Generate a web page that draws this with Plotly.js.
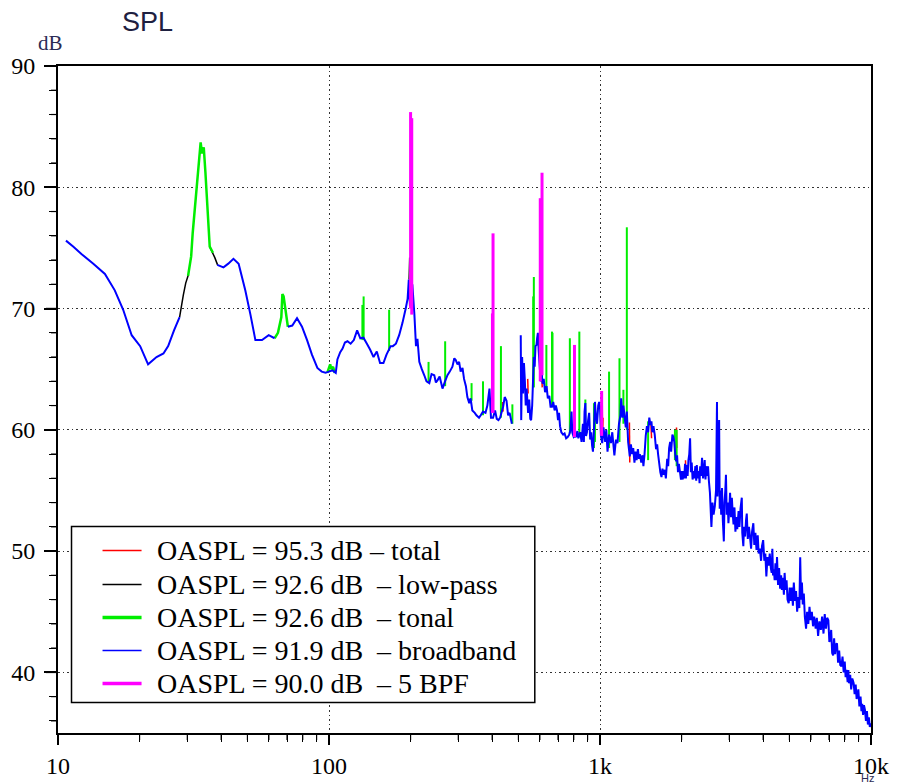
<!DOCTYPE html>
<html><head><meta charset="utf-8">
<script src="https://cdn.plot.ly/plotly-3.0.1.min.js"></script>
<style>html,body{margin:0;padding:0;background:#fff;} #chart{width:900px;height:784px;}</style>
</head><body><div id="chart"></div>
<script>
// ---- series names (legend) ----
const seriesNames = [
  'OASPL = 95.3 dB \u2013 total',
  'OASPL = 92.6 dB \u00a0\u2013 low-pass',
  'OASPL = 92.6 dB \u00a0\u2013 tonal',
  'OASPL = 91.9 dB \u00a0\u2013 broadband',
  'OASPL = 90.0 dB \u00a0\u2013 5 BPF'
];
const seriesColors = ['#ff0000', '#000000', '#00ee00', '#0000ff', '#ff00ff'];
const legendLineWidths = [1.5, 1.5, 3.5, 1.5, 3.5];

// ---- broadband spectrum (Hz, dB); null level = gap ----
const bbFreq = [
  10.7, 11.4, 12.2, 13.5, 14.9, 16.2, 17.4, 18.7, 20.1, 21.5,
  23.1, 24.5, 25.5, 26.8, 28.1, 28.3, 38.7, 40.8, 42.5, 44.4,
  46.4, 49.1, 51.3, 53.5, 56.6, 59.9, 63.0, 63.5, 70.5, 73.2,
  76.2, 79.5, 83.0, 86.5, 90.6, 94.0, 97.1, 100, 103, 105.9,
  107.4, 110, 112.2, 114.5, 117, 120.2, 123.5, 127, 130.5, 134,
  138, 141.9, 146, 150.1, 154.3, 158.8, 163, 168.8, 172, 176.6,
  181.5, 186.6, 191.9, 195, 197, 199, 203, 206.6, 209.4, 212,
  215.4, 220, 224.7, 229, 234.5, 239, 244.6, 248, 251.6, 256,
  262.3, 268, 273.6, 279, 285.4, 290, 293.6, 298, 302.1, 306,
  310.9, 315, 320, 324, 329.2, 333, 338, 345, 350, 357.8,
  363, 370, 378, 384, 391, 396, 403, 410, 416, 422,
  428, 439, 445, 452, 458, 464, 473, 490, 510, 512,
  516, 520, 524, 528, 532, 536, 543, 548, 553, 557,
  562, 566, 570, 574, 578, 583, 586, 590, 594, 600,
  605, 609, 614, 620, 627, 635, 642, 650, 657, 665,
  672, 680, 687, 694, 700, 706, 712, 720, 731, 740,
  750, 760, 770, 778, 785, 790, 800, 810, 816, 825,
  832, 845, 855, 865, 872, 877, 883, 888, 895, 904,
  912, 920, 928, 935, 942, 950, 958, 966, 975, 985,
  993, 1000, 1008, 1019, 1030, 1045, 1055, 1066, 1080, 1097,
  1110, 1130, 1145, 1160, 1175, 1190, 1197, 1210, 1220, 1232,
  1245, 1256, 1270, 1288, 1300, 1315, 1326, 1340, 1352, 1365,
  1380, 1392, 1403, 1420, 1435, 1446, 1460, 1475, 1490, 1505,
  1520, 1535, 1548, 1560, 1575, 1592, 1610, 1625, 1638, 1655,
  1670, 1686, 1700, 1715, 1734, 1750, 1770, 1785, 1799, 1815,
  1830, 1850, 1866, 1880, 1895, 1910, 1925, 1940, 1955, 1974,
  1990, 2005, 2020, 2031, 2045, 2060, 2075, 2089, 2105, 2120,
  2135, 2150, 2165, 2180, 2196, 2212, 2230, 2248, 2265, 2276,
  2295, 2317, 2330, 2342, 2360, 2380, 2400, 2418, 2434, 2450,
  2470, 2490, 2504, 2520, 2545, 2560, 2577, 2600, 2625, 2653,
  2680, 2702, 2712, 2730, 2752, 2765, 2784, 2800, 2820, 2840,
  2864, 2880, 2900, 2916, 2935, 2960, 2978, 3000, 3020, 3045,
  3066, 3090, 3110, 3135, 3160, 3185, 3210, 3246, 3270, 3300,
  3336, 3350, 3380, 3400, 3430, 3460, 3480, 3510, 3545, 3577,
  3610, 3640, 3680, 3710, 3745, 3780, 3820, 3850, 3890, 3930,
  3960, 4000, 4040, 4075, 4110, 4150, 4190, 4230, 4270, 4300,
  4325, 4350, 4380, 4410, 4440, 4470, 4500, 4540, 4580, 4620,
  4660, 4690, 4730, 4770, 4800, 4840, 4880, 4920, 4970, 5010,
  5060, 5100, 5150, 5190, 5240, 5290, 5340, 5390, 5440, 5480,
  5520, 5560, 5600, 5650, 5700, 5760, 5810, 5870, 5930, 5990,
  6050, 6110, 6170, 6250, 6310, 6380, 6450, 6530, 6600, 6680,
  6750, 6820, 6890, 6960, 7020, 7070, 7130, 7190, 7250, 7310,
  7370, 7430, 7490, 7560, 7630, 7700, 7780, 7850, 7930, 8000,
  8060, 8120, 8200, 8250, 8300, 8380, 8450, 8530, 8630, 8700,
  8780, 8850, 8900, 8980, 9060, 9150, 9220, 9280, 9350, 9420,
  9500, 9580, 9660, 9740, 9820, 9900, 10000
];
const bbLevel = [
  75.6, 75.1, 74.5, 73.7, 72.85, 71.5, 69.9, 67.8, 66.9, 65.4,
  66.0, 66.3, 66.9, 68.2, 69.3, null, 73.6, 73.4, 73.7, 74.1,
  73.7, 71.5, 69.5, 67.4, 67.4, 67.8, 67.55, null, 68.5, 68.6,
  69.2, 68.5, 67.4, 66.2, 65.1, 64.8, 64.7, 64.8, 64.9, 64.7,
  65.8, 66.4, 66.7, 67.2, 67.3, 67.1, 67.4, 68.2, 67.55, 67.6,
  67.1, 66.6, 66.0, 66.45, 65.5, 65.5, 66.2, 66.9, 66.9, 67.1,
  67.8, 68.8, 70.0, 70.8, 72.4, 70.2, 72.0, 69.5, 66.9, 67.5,
  65.6, 65.0, 64.5, 64.0, 63.85, 64.6, 64.5, 63.9, 64.1, 64.4,
  63.4, 64.0, 64.5, 64.8, 65.2, 65.9, 65.75, 65.4, 65.6, 64.8,
  65.1, 64.2, 63.6, 62.7, 62.2, 62.6, 61.6, 61.4, 61.2, 61.0,
  61.2, 61.5, 61.4, 62.0, 63.4, 61.0, 61.0, 61.6, 60.9, 60.8,
  61.0, 61.9, 62.7, 62.4, 61.2, 61.4, 60.5, null, 67.8, 60.8,
  66.0, 63.0, 65.5, 64.1, 62.0, 63.4, 61.4, 62.5, 60.9, 60.8,
  62.0, 64.0, 66.0, 65.2, 66.9, 67.0, 67.55, 68.0, 66.5, 65.0,
  64.0, 64.7, 63.8, 64.2, 63.1, 63.6, 62.6, 62.8, 61.9, 61.9,
  62.3, 61.6, 62.0, 61.6, 60.8, 61.4, 60.3, 59.8, 59.6, 59.7,
  59.3, 59.4, 59.6, 60.0, 61.5, 59.8, 59.4, 59.5, 59.4, 59.9,
  59.3, 59.8, 59.0, 60.5, 59.0, 61.5, 62.2, 59.5, 59.8, 60.8,
  61.4, 59.2, 59.8, 58.7, 58.2, 60.0, 62.3, 61.0, 60.5, 62.0,
  62.3, 61.9, 59.5, 58.9, 60.2, 59.0, 60.0, 58.2, 59.6, 58.9,
  59.8, 57.9, 59.2, 58.9, 60.5, 61.2, 62.6, 61.0, 62.0, 61.1,
  60.2, 61.5, 59.0, 57.8, 58.8, 58.0, 58.5, 57.3, 58.2, 57.5,
  58.4, 57.6, 58.0, 57.3, 57.9, 57.0, 58.0, 59.5, 60.3, 59.8,
  61.0, 60.4, 60.7, 59.8, 60.3, 59.6, 58.4, 58.8, 58.0, 57.2,
  56.5, 56.1, 56.8, 56.3, 56.7, 56.0, 57.6, 57.0, 58.5, 59.0,
  58.2, 59.6, 59.4, 59.0, 58.0, 57.4, 57.9, 56.5, 57.2, 56.5,
  55.9, 56.6, 55.9, 56.6, 56.0, 57.2, 56.0, 57.1, 56.2, 57.5,
  58.0, 59.3, 56.5, 57.3, 55.9, 56.6, 56.0, 57.0, 55.8, 57.1,
  56.0, 56.6, 55.6, 57.0, 56.2, 57.7, 56.0, 56.7, 57.5, 55.9,
  57.0, 56.2, 57.0, 55.9, 54.8, 53.5, 52.0, 54.0, 53.0, 53.7,
  55.0, 62.3, 54.5, 56.5, 60.8, 53.5, 55.0, 53.0, 55.2, 52.5,
  50.8, 54.0, 55.0, 56.3, 53.0, 54.0, 52.3, 53.5, 54.8, 52.8,
  54.4, 53.0, 52.2, 53.6, 51.6, 52.8, 51.8, 53.3, 52.0, 53.5,
  54.4, 51.5, 50.4, 52.0, 51.2, 52.6, 53.1, 51.0, 52.0, 51.2,
  50.2, 51.6, 52.3, 50.5, 51.5, 50.1, 51.3, 49.8, 50.2, 49.2,
  50.4, 50.9, 49.2, 49.8, 47.9, 49.5, 48.8, 49.8, 48.6, 48.2,
  50.2, 48.0, 48.5, 47.6, 49.0, 47.6, 49.5, 47.2, 48.6, 46.9,
  48.0, 46.8, 47.8, 46.4, 48.2, 46.8, 47.6, 46.0, 45.7, 47.0,
  45.9, 47.0, 45.5, 47.4, 45.9, 46.7, 45.0, 46.2, 45.3, 49.5,
  46.0, 47.4, 45.6, 46.5, 44.6, 43.6, 45.0, 44.0, 45.4, 44.3,
  45.0, 43.8, 44.6, 43.6, 44.5, 43.0, 44.2, 43.5, 44.6, 43.2,
  44.8, 43.6, 44.5, 44.3, 42.5, 42.7, 43.5, 41.6, 41.4, 42.8,
  41.5, 42.3, 42.4, 40.8, 41.8, 40.6, 40.5, 41.3, 40.0, 40.9,
  39.6, 40.2, 39.2, 40.2, 39.1, 39.8, 38.6, 39.5, 39.1, 38.2,
  39.0, 37.8, 38.0, 38.6, 37.2, 38.0, 36.8, 37.4, 36.5, 37.3,
  36.9, 36.0, 36.8, 35.7, 36.3, 35.5, 35.8
];

// ---- tonal humps (green); null level = gap ----
const humpFreq = [
  30.2, 31.0, 31.4, 31.9, 32.8, 33.6, 34.0, 34.5, 35.0, 35.6, 36.3, 37.3, 40,
  63.0, 64.8, 66.7, 67.3, 68.0, 69.4, 70.5, 80,
  98.5, 101, 102, 103.5, 105
];
const humpLevel = [
  72.7, 74.3, 76.2, 78.1, 81.5, 83.7, 82.8, 83.3, 81.2, 77.9, 75.1, 74.6, null,
  67.55, 68.0, 69.3, 71.2, 71.0, 69.3, 68.5, null,
  64.7, 65.4, 65.0, 65.2, 64.7
];

// ---- tonal spikes (green): frequency, peak level, base level ----
const spikeFreq = [132.8, 134.2, 166.7, 199.5, 233, 268.3, 335.8, 370, 431, 475,
  567, 570, 634, 665, 668, 774, 839, 883, 950, 958, 1080, 1180, 1220, 1256, 1505, 1890, 1918];
const spikePeak = [70.3, 71.0, 69.9, 73.0, 65.6, 67.3, 63.85, 64.0, 66.9, 62.1,
  71.0, 72.6, 67.0, 68.1, 68.0, 67.55, 68.1, 62.5, 62.2, 62.3, 64.8, 65.9, 63.3, 76.7, 60.7, 60.0, 60.0];
const spikeBase = [67.4, 67.4, 66.5, 71.0, 63.9, 63.6, 62.4, 61.2, 61.0, 60.5,
  63.5, 63.5, 63.2, 62.0, 62.0, 59.7, 59.5, 60.0, 58.5, 59.0, 58.5, 59.0, 60.5, 60.0, 57.5, 57.5, 57.0];

// ---- low-pass (black) visible parts; null level = gap ----
const lpFreq = [28.1, 28.5, 29.0, 29.6, 30.3, 33, 36.3, 37.3, 37.9, 38.8, 100, 197.5, 198.5, 199.5];
const lpLevel = [69.3, 70.2, 71.1, 72.1, 72.8, null, 75.1, 74.6, 74.2, 73.6, null, 72.4, 74.2, 72.0];

// ---- total (red) visible parts; null level = gap ----
const totFreq = [437, 439, 500, 541, 543, 580, 610, 612, 800, 1019, 1022, 1026, 1100,
  1284, 1288, 1400, 1540, 1550, 1700, 1915, 1920, 2000, 2068, 2072];
const totLevel = [62.3, 61.5, null, 64.2, 63.0, null, 64.9, 63.5, null, 62.4, 59.5, 61.0, null,
  60.6, 57.3, null, 60.6, 59.3, null, 60.2, 58.5, null, 57.5, 56.5];

// ---- blade passing frequency harmonics (magenta) ----
const bpfFreq = [200, 202, 401, 403, 602, 611, 805, 1014];
const bpfPeak = [86.2, 85.7, 69.6, 76.2, 79.1, 81.2, 67.0, 63.2];
const bpfBase = [70.0, 69.5, 61.4, 61.4, 64.0, 64.5, 59.4, 59.5];

// ---- axis ticks ----
const xTickVals = [10, 100, 1000, 10000];
const xTickText = ['10', '100', '1k', '10k'];
const xMinorVals = [20, 30, 40, 50, 60, 70, 80, 90, 200, 300, 400, 500, 600, 700, 800, 900,
  2000, 3000, 4000, 5000, 6000, 7000, 8000, 9000];
const yTickVals = [40, 50, 60, 70, 80, 90];
const yMinorVals = [36, 38, 42, 44, 46, 48, 52, 54, 56, 58, 62, 64, 66, 68, 72, 74, 76, 78, 82, 84, 86, 88];
const X_LOG_MIN = 1, X_LOG_MAX = 4, Y_MIN = 35, Y_MAX = 90;

// vertical segments; the gap point keeps a numeric x (only its level is null)
function spikeXY(freqs, peaks, bases) {
  const x = [], y = [];
  freqs.forEach((f, i) => { x.push(f, f, f); y.push(bases[i], peaks[i], null); });
  return {x, y};
}
const gs = spikeXY(spikeFreq, spikePeak, spikeBase);
const ms = spikeXY(bpfFreq, bpfPeak, bpfBase);

const traces = [
  {x: totFreq, y: totLevel, name: seriesNames[0], mode: 'lines', line: {color: seriesColors[0], width: 1.5}},
  {x: lpFreq, y: lpLevel, name: seriesNames[1], mode: 'lines', line: {color: seriesColors[1], width: 1.5}},
  {x: humpFreq, y: humpLevel, name: seriesNames[2], mode: 'lines', line: {color: seriesColors[2], width: 2.5}},
  {x: gs.x, y: gs.y, name: seriesNames[2], mode: 'lines', line: {color: seriesColors[2], width: 2}},
  {x: bbFreq, y: bbLevel, name: seriesNames[3], mode: 'lines', line: {color: seriesColors[3], width: 2, simplify: false}},
  {x: ms.x, y: ms.y, name: seriesNames[4], mode: 'lines', line: {color: seriesColors[4], width: 3}}
];

// ---- plot area in px (58.5..871 x 66.5..733.5) ----
const PL = 58.5, PW = 812.5, PT = 66.5, PH = 667;
const px = v => (v - PL) / PW;
const py = v => 1 - (v - PT) / PH;
const xPaper = f => (Math.log10(f) - X_LOG_MIN) / (X_LOG_MAX - X_LOG_MIN);
const yPaper = d => (d - Y_MIN) / (Y_MAX - Y_MIN);

const shapes = [];
// outside tick marks (same geometry as the axis ticks)
xTickVals.forEach(v => shapes.push({type: 'line', xref: 'paper', yref: 'paper', x0: xPaper(v), x1: xPaper(v), y0: 0, y1: -10 / PH, line: {color: '#000', width: 1.5}}));
xMinorVals.forEach(v => shapes.push({type: 'line', xref: 'paper', yref: 'paper', x0: xPaper(v), x1: xPaper(v), y0: 0, y1: -7 / PH, line: {color: '#000', width: 1.2}}));
yTickVals.forEach(v => shapes.push({type: 'line', xref: 'paper', yref: 'paper', x0: 0, x1: -12 / PW, y0: yPaper(v), y1: yPaper(v), line: {color: '#000', width: 1.5}}));
yMinorVals.forEach(v => shapes.push({type: 'line', xref: 'paper', yref: 'paper', x0: 0, x1: -7 / PW, y0: yPaper(v), y1: yPaper(v), line: {color: '#000', width: 1.2}}));

// legend box
const legendRowsPx = [551, 585, 618, 651, 684];
shapes.push({type: 'rect', xref: 'paper', yref: 'paper', x0: px(72), x1: px(535), y0: py(703), y1: py(527),
   line: {color: '#000', width: 1.5}, fillcolor: '#ffffff', layer: 'above'});
const annotations = [];
seriesNames.forEach((nm, i) => {
  shapes.push({type: 'line', xref: 'paper', yref: 'paper', x0: px(103), x1: px(142),
    y0: py(legendRowsPx[i]), y1: py(legendRowsPx[i]),
    line: {color: seriesColors[i], width: legendLineWidths[i]}, layer: 'above'});
  annotations.push({text: nm, xref: 'paper', yref: 'paper', x: px(155), y: py(legendRowsPx[i]),
    xanchor: 'left', yanchor: 'middle', showarrow: false,
    font: {family: 'Liberation Serif, Times New Roman, serif', size: 28, color: '#000'}});
});
annotations.push(
  {text: 'dB', xref: 'paper', yref: 'paper', x: px(51), y: py(43), xanchor: 'center', yanchor: 'middle', showarrow: false,
   font: {family: 'Liberation Serif, Times New Roman, serif', size: 21, color: '#2b2b55'}},
  {text: 'Hz', xref: 'paper', yref: 'paper', x: px(868), y: py(778), xanchor: 'center', yanchor: 'middle', showarrow: false,
   font: {family: 'Liberation Sans, Arial, sans-serif', size: 11, color: '#2b2b55'}}
);

const gridDash = '1.6px,3px';
const layout = {
  width: 900, height: 784,
  margin: {l: 58, r: 29, t: 66, b: 51},
  paper_bgcolor: '#ffffff', plot_bgcolor: '#ffffff',
  hovermode: false, showlegend: false,
  title: {text: 'SPL', x: 0.164, xanchor: 'center', y: 0.972, yanchor: 'middle',
          font: {family: 'Liberation Sans, Arial, sans-serif', size: 27, color: '#1e2040'}},
  xaxis: {
    type: 'log', range: [X_LOG_MIN, X_LOG_MAX], tickmode: 'array', tickvals: xTickVals, ticktext: xTickText,
    ticks: 'outside', ticklen: 10, tickwidth: 1.5, tickcolor: '#000', layer: 'above traces',
    showline: true, linecolor: '#000', linewidth: 2, mirror: true, zeroline: false,
    showgrid: true, gridcolor: '#333', gridwidth: 1.3, griddash: gridDash,
    minor: {dtick: 'D1', ticks: 'outside', ticklen: 7, tickwidth: 1.2, tickcolor: '#000', showgrid: false},
    tickfont: {family: 'Liberation Serif, Times New Roman, serif', size: 24, color: '#000'}
  },
  yaxis: {
    range: [Y_MIN, Y_MAX], tickmode: 'array', tickvals: yTickVals,
    ticks: 'outside', ticklen: 12, tickwidth: 1.5, tickcolor: '#000', layer: 'above traces',
    showline: true, linecolor: '#000', linewidth: 2, mirror: true, zeroline: false,
    showgrid: true, gridcolor: '#333', gridwidth: 1.3, griddash: gridDash,
    minor: {tick0: 0, dtick: 2, ticks: 'outside', ticklen: 7, tickwidth: 1.2, tickcolor: '#000', showgrid: false},
    tickfont: {family: 'Liberation Serif, Times New Roman, serif', size: 24, color: '#000'},
    ticklabelstandoff: 4
  },
  shapes: shapes,
  annotations: annotations
};

Plotly.newPlot('chart', traces, layout, {displayModeBar: false});
</script></body></html>
